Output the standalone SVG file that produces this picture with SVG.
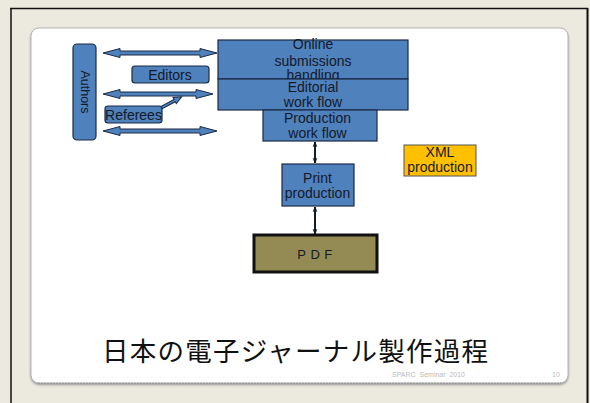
<svg xmlns="http://www.w3.org/2000/svg" width="590" height="403" viewBox="0 0 590 403">
<defs>
<style>
.box{fill:#4F81BD;stroke:#1C2A44;stroke-width:1.2}
.arr{fill:#4F81BD;stroke:#1C2A44;stroke-width:1}
.t{font-family:"Liberation Sans",Arial,sans-serif;font-size:14px;fill:#141a28;text-anchor:middle}
.con{stroke:#141a28;stroke-width:2;fill:none;marker-start:url(#ah);marker-end:url(#ah)}
</style>
<marker id="ah" viewBox="0 0 10 10" refX="9" refY="5" markerWidth="3" markerHeight="3" orient="auto-start-reverse" markerUnits="strokeWidth">
<path d="M1,2 L9,5 L1,8" fill="none" stroke="#141a28" stroke-width="1.5"/>
</marker>
<filter id="sh" x="-5%" y="-5%" width="110%" height="110%">
<feDropShadow dx="0" dy="1.5" stdDeviation="0.8" flood-color="#888" flood-opacity="0.8"/>
</filter>
</defs>
<rect x="0" y="0" width="590" height="403" fill="#ECE9DF"/>
<path d="M10,8.5 H588 M11,8 V403" stroke="#111" stroke-width="1.5" fill="none"/>
<path d="M587.5,8 V403" stroke="#111" stroke-width="2" fill="none"/>
<rect x="31" y="28" width="537" height="355" rx="8" fill="#fff" stroke="#b5b5b5" stroke-width="1" filter="url(#sh)"/>
<path d="M38,383.5 H561" stroke="#999" stroke-width="1.5" stroke-dasharray="2,1" fill="none"/>

<g id="connectors">
<polygon class="arr" points="103,53 120,48.5 120,51 200,51 200,48.5 217,53 200,57.5 200,55 120,55 120,57.5"/>
<polygon class="arr" points="103,94 120,89.5 120,92 196,92 196,89.5 213,94 196,98.5 196,96 120,96 120,98.5"/>
<polygon class="arr" points="103,131 120,126.5 120,129 200,129 200,126.5 217,131 200,135.5 200,133 120,133 120,135.5"/>
<polygon class="arr" transform="translate(157,110) rotate(-28)" points="0,-1.3 20,-1.3 20,-3.5 28,0 20,3.5 20,1.3 0,1.3"/>
<line class="con" x1="315" y1="142" x2="315" y2="163"/>
<line class="con" x1="315" y1="207" x2="315" y2="234"/>
</g>

<g id="authors">
<rect class="box" x="73" y="44" width="23" height="96" rx="4"/>
<text class="t" transform="translate(80.5,92) rotate(90)" style="font-size:12.5px">Authors</text>
</g>
<g id="editors">
<rect class="box" x="132" y="66" width="77" height="17" rx="3"/>
<text class="t" x="170" y="80">Editors</text>
</g>
<g id="referees">
<rect class="box" x="105" y="106" width="57" height="17" rx="3"/>
<text class="t" x="133.5" y="120">Referees</text>
</g>
<g id="online">
<rect class="box" x="218" y="40" width="190" height="39"/>
<text class="t" x="313" y="49">Online</text>
<text class="t" x="313" y="65.5">submissions</text>
<text class="t" x="313" y="80">handling</text>
</g>
<g id="editorial">
<rect class="box" x="218" y="79" width="190" height="31"/>
<text class="t" x="313" y="91.5">Editorial</text>
<text class="t" x="313" y="106.5">work flow</text>
</g>
<g id="production">
<rect class="box" x="263" y="110" width="114" height="31"/>
<text class="t" x="317.5" y="123">Production</text>
<text class="t" x="317.5" y="138">work flow</text>
</g>
<g id="print">
<rect class="box" x="282" y="164" width="72" height="42"/>
<text class="t" x="317.5" y="183">Print</text>
<text class="t" x="317.5" y="197.5">production</text>
</g>
<g id="xml">
<rect x="404" y="145" width="72" height="31" fill="#FFC000" stroke="#555" stroke-width="1"/>
<text class="t" x="440" y="157">XML</text>
<text class="t" x="440" y="172">production</text>
</g>
<g id="pdf">
<rect x="254" y="235" width="123" height="37" fill="#948A54" stroke="#111" stroke-width="3"/>
<text class="t" x="317" y="259" style="font-size:13px;letter-spacing:4.5px">PDF</text>
</g>

<text x="102" y="361" style="font-family:'Noto Sans CJK JP','Noto Sans CJK SC',sans-serif;font-size:26.5px;fill:#111" textLength="386">日本の電子ジャーナル製作過程</text>
<text x="392" y="377" style="font-family:'Liberation Sans',Arial,sans-serif;font-size:7px;fill:#bbb;white-space:pre" xml:space="preserve">SPARC  Seminar  2010</text>
<text x="552" y="377" style="font-family:'Liberation Sans',Arial,sans-serif;font-size:7px;fill:#bbb">10</text>
</svg>
